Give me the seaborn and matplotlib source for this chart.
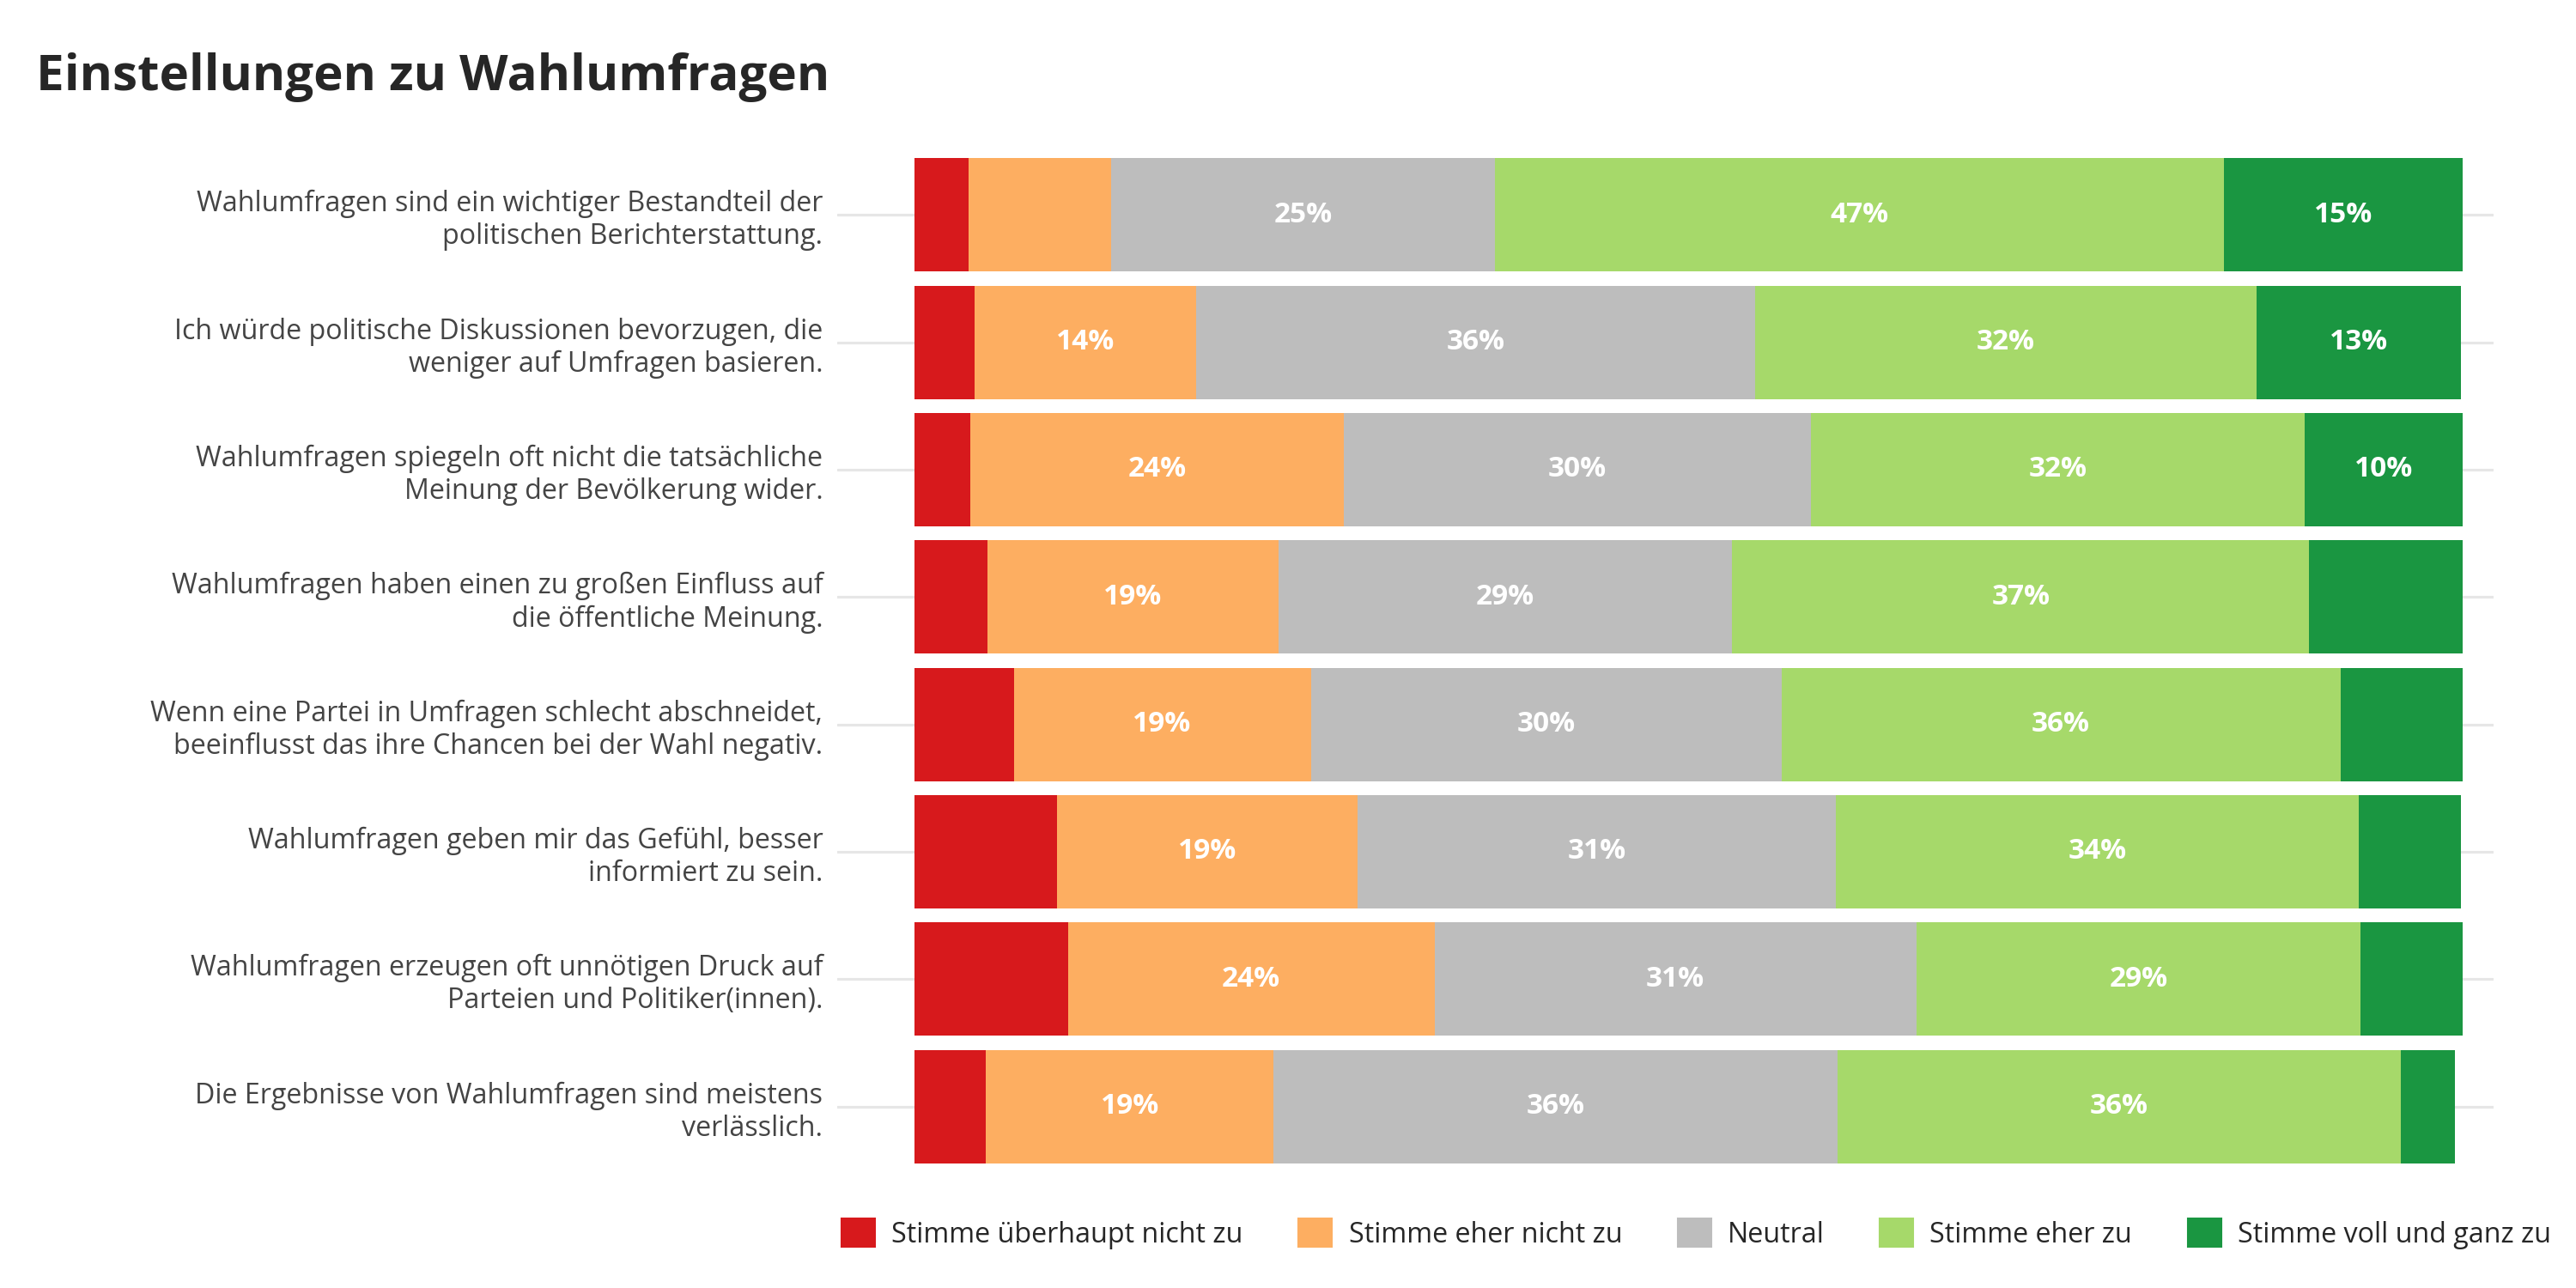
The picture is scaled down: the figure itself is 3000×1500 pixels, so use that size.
import matplotlib
matplotlib.use("Agg")
import matplotlib.pyplot as plt
import seaborn as sns
import numpy as np
from matplotlib.patches import Patch

statements = [
    "Wahlumfragen sind ein wichtiger Bestandteil der\npolitischen Berichterstattung.",
    "Ich würde politische Diskussionen bevorzugen, die\nweniger auf Umfragen basieren.",
    "Wahlumfragen spiegeln oft nicht die tatsächliche\nMeinung der Bevölkerung wider.",
    "Wahlumfragen haben einen zu großen Einfluss auf\ndie öffentliche Meinung.",
    "Wenn eine Partei in Umfragen schlecht abschneidet,\nbeeinflusst das ihre Chancen bei der Wahl negativ.",
    "Wahlumfragen geben mir das Gefühl, besser\ninformiert zu sein.",
    "Wahlumfragen erzeugen oft unnötigen Druck auf\nParteien und Politiker(innen).",
    "Die Ergebnisse von Wahlumfragen sind meistens\nverlässlich.",
]
categories = ["Stimme überhaupt nicht zu", "Stimme eher nicht zu", "Neutral",
              "Stimme eher zu", "Stimme voll und ganz zu"]
colors = ["#d7191c", "#fdae61", "#bdbdbd", "#a6d96a", "#1a9641"]
s_nicht = [3.5, 3.9, 3.6, 4.7, 6.4, 9.2, 9.9, 4.6]
s_eher_nicht = [9.2, 14.3, 24.1, 18.8, 19.2, 19.4, 23.7, 18.6]
s_neutral = [24.8, 36.1, 30.2, 29.3, 30.4, 30.9, 31.1, 36.4]
s_eher = [47.1, 32.4, 31.9, 37.3, 36.1, 33.8, 28.7, 36.4]
s_voll = [15.4, 13.2, 10.2, 9.9, 7.9, 6.6, 6.6, 3.5]
series = [s_nicht, s_eher_nicht, s_neutral, s_eher, s_voll]

sns.set_theme(style="white")
plt.rcParams['font.family'] = ['Open Sans', 'DejaVu Sans']

fig = plt.figure(figsize=(20, 10), dpi=150)
ax = fig.add_axes([0.325, 0.097, 0.643, 0.791])
y = np.arange(len(statements))
for yi in y:
    ax.axhline(yi, color="#e6e6e6", lw=1.5, zorder=0)
left = np.zeros(len(statements))
for vals, col in zip(series, colors):
    vals = np.array(vals)
    ax.barh(y, vals, left=left, color=col, height=0.89, zorder=2, linewidth=0)
    for yi, v, l in zip(y, vals, left):
        if v >= 10:
            ax.text(l + v / 2, yi, f"{round(v)}%", ha="center", va="center",
                    color="white", fontsize=16, fontweight="bold", zorder=3)
    left += vals
ax.set_xlim(-5, 102)
ax.set_ylim(len(statements) - 0.555, -0.555)
ax.set_yticks(y)
ax.set_yticklabels(statements, fontsize=15.5, color="#444444", ha="right")
ax.tick_params(axis="y", length=0, pad=8)
ax.set_xticks([])
for s in ax.spines.values():
    s.set_visible(False)
fig.text(0.014, 0.94, "Einstellungen zu Wahlumfragen", fontsize=28,
         fontweight="bold", ha="left", va="center")
handles = [Patch(color=c, label=l) for c, l in zip(colors, categories)]
fig.legend(handles=handles, loc="center right", bbox_to_anchor=(1.0, 0.042),
           ncol=5, frameon=False, fontsize=15.5, handlelength=1.2, handleheight=1.2,
           columnspacing=2.0, handletextpad=0.6)
fig.savefig("out.png", dpi=150)
